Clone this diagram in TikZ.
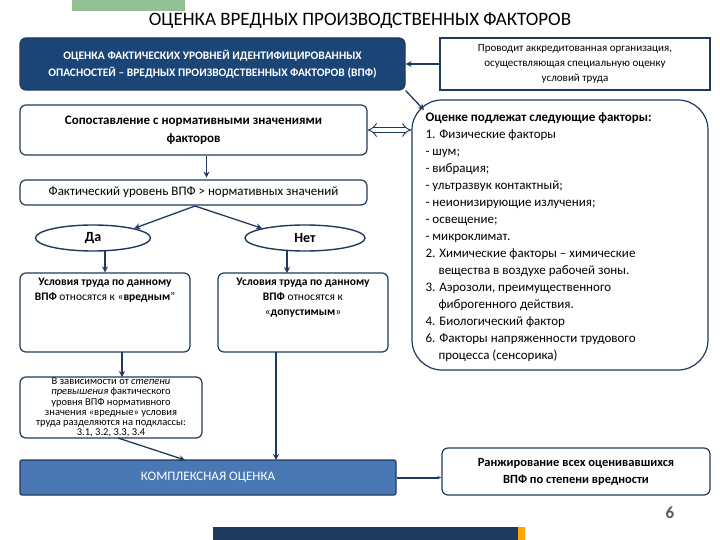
\documentclass[tikz,border=0pt]{standalone}
\usepackage{fontspec}
\setmainfont{Carlito}
\usetikzlibrary{arrows.meta,shapes.geometric}
\definecolor{navy}{HTML}{1F3A5F}
\definecolor{dfill}{HTML}{1B4477}
\definecolor{mblue}{HTML}{4A78B4}
\definecolor{gbar}{HTML}{93C193}
\begin{document}
\begin{tikzpicture}[x=1pt,y=-1pt,
 bx/.style={draw=navy,line width=1.2pt,rounded corners=6pt,align=center,inner sep=2pt},
 ar/.style={draw=navy,line width=1.3pt,-{Stealth[length=6pt,width=6pt]}},
 t9/.style={font=\fontsize{11.5}{15}\selectfont}]
\useasboundingbox (0,0) rectangle (720,540);
\fill[white] (0,0) rectangle (720,540);
\fill[gbar] (72,0) rectangle (185,11);
\node (title) at (360,21) {\fontsize{19}{20}\selectfont ОЦЕНКА ВРЕДНЫХ ПРОИЗВОДСТВЕННЫХ ФАКТОРОВ};
\node[bx,fill=dfill,minimum width=385pt,minimum height=52pt,text=white,font=\fontsize{11.5}{17}\selectfont\bfseries] (ocf) at (212.5,64) {ОЦЕНКА ФАКТИЧЕСКИХ УРОВНЕЙ ИДЕНТИФИЦИРОВАННЫХ\\ОПАСНОСТЕЙ – ВРЕДНЫХ ПРОИЗВОДСТВЕННЫХ ФАКТОРОВ (ВПФ)};
\node[bx,rounded corners=0pt,minimum width=270pt,minimum height=52pt,font=\fontsize{11}{15}\selectfont] (org) at (575,64) {Проводит аккредитованная организация,\\осуществляющая специальную оценку\\условий труда};
\node[bx,rounded corners=30pt,minimum width=296pt,minimum height=270pt] (list) at (560,235) {};
\node[anchor=north west,align=left,font=\fontsize{13}{17}\selectfont] (lt) at (422,109) {\textbf{Оценке подлежат следующие факторы:}\\
1. Физические факторы\\- шум;\\- вибрация;\\- ультразвук контактный;\\- неионизирующие излучения;\\- освещение;\\- микроклимат.\\2. Химические факторы – химические\\\hspace*{1em}вещества в воздухе рабочей зоны.\\3. Аэрозоли, преимущественного\\\hspace*{1em}фиброгенного действия.\\4. Биологический фактор\\6. Факторы напряженности трудового\\\hspace*{1em}процесса (сенсорика)};
\node[bx,minimum width=347pt,minimum height=50pt,font=\fontsize{13}{18}\selectfont\bfseries] (cmp) at (193.5,130) {Сопоставление с нормативными значениями\\факторов};
\node[bx,minimum width=347pt,minimum height=25pt,font=\fontsize{13}{14}\selectfont] (fact) at (193.5,192.5) {Фактический уровень ВПФ > нормативных значений};
\node[ellipse,draw=navy,line width=1.4pt,minimum width=115pt,minimum height=26pt,font=\fontsize{14}{15}\selectfont\bfseries] (da) at (93,238) {Да};
\node[ellipse,draw=navy,line width=1.4pt,minimum width=120pt,minimum height=26pt,font=\fontsize{14}{15}\selectfont\bfseries] (net) at (305,238) {Нет};
\node[bx,minimum width=170pt,minimum height=79pt] (vr) at (105,312.5) {};
\node[anchor=north,align=center,t9] at (105,275) {\textbf{Условия труда по данному}\\\textbf{ВПФ} относятся к «\textbf{вредным}"};
\node[bx,minimum width=170pt,minimum height=79pt] (dop) at (303,312.5) {};
\node[anchor=north,align=center,t9] at (303,275) {\textbf{Условия труда по данному}\\\textbf{ВПФ} относятся к\\«\textbf{допустимым}»};
\node[bx,minimum width=182pt,minimum height=61pt] (zav) at (111,407.5) {};
\node[align=center,font=\fontsize{10.5}{10.3}\selectfont] at (111,407.5) {В зависимости от \textit{степени}\\\textit{превышения} фактического\\уровня ВПФ нормативного\\значения «вредные» условия\\труда разделяются на подклассы:\\3.1, 3.2, 3.3, 3.4};
\node[bx,rounded corners=2pt,fill=mblue,minimum width=376pt,minimum height=35pt,text=white,font=\fontsize{13}{15}\selectfont] (kom) at (208,477.5) {КОМПЛЕКСНАЯ ОЦЕНКА};
\node[bx,minimum width=268pt,minimum height=47pt,font=\fontsize{12.5}{17}\selectfont\bfseries] (rank) at (576,471.5) {Ранжирование всех оценивавшихся\\ВПФ по степени вредности};
\node[font=\fontsize{17}{18}\selectfont\bfseries,text=gray!70!black] (six) at (670,513) {6};
\fill[navy] (213,527) rectangle (520,540);
\fill[orange!70!yellow] (518,527) rectangle (525,540);
% connectors
\draw[ar] (org.west) -- (ocf.east);
\draw[ar] (ocf.south east) -- (424,110);
\draw[draw=navy,line width=0.9pt,double,double distance=4pt,{Implies}-{Implies}] (cmp.east) -- (list.west|-cmp.east);
\draw[ar] (cmp.south) ++(13,0) -- ++(0,22);
\draw[ar] (195,206) -- (da.north east);
\draw[ar] (195,206) -- (net.north west);
\draw[ar] (105,251) -- (vr.north);
\draw[ar] (287,251) -- (287,273);
\draw[ar] (122,352) -- (122,377);
\draw[ar] (118,438) -- (185,460);
\draw[ar] (276,352) -- (276,460);
\draw[draw=navy,line width=2pt,-{Stealth[length=4pt]}] (kom.east) -- (rank.west|-kom.east);
\end{tikzpicture}
\end{document}
